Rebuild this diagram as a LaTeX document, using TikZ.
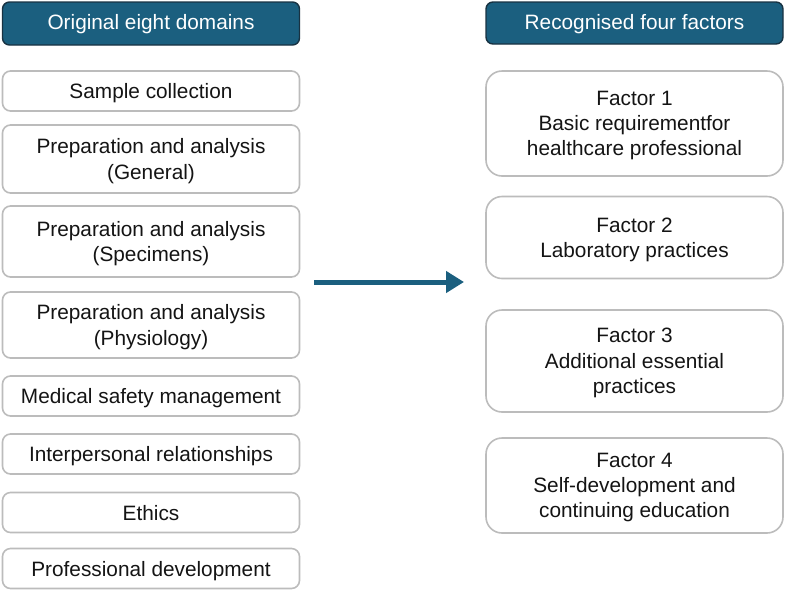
\documentclass[tikz,border=0pt]{standalone}
\usepackage{fontspec}
\setmainfont{Liberation Sans}
\usepackage{xcolor}
\usepackage{tikz}
\usetikzlibrary{arrows.meta,positioning}
\definecolor{headblue}{RGB}{27,95,127}
\definecolor{headedge}{RGB}{24,50,66}
\definecolor{boxgray}{RGB}{188,188,188}
\definecolor{inktext}{RGB}{20,20,20}

\begin{document}
\begin{tikzpicture}[x=1pt, y=-1pt, line join=round, >=Latex,
    font=\fontsize{20.8}{25.3}\selectfont,
    headbox/.style={draw=headedge, fill=headblue, line width=1.4pt, rounded corners=7pt,
        text=white, minimum width=297pt, inner sep=0pt, align=center, text depth=2.5pt},
    domainbox/.style={draw=boxgray, fill=white, line width=1.6pt, rounded corners=8pt,
        text=inktext, minimum width=297pt, inner sep=0pt, align=center, text depth=0pt},
    factorbox/.style={domainbox, rounded corners=16pt}]
    \useasboundingbox (0,0) rectangle (786,590);

    % column headers
    \node[headbox, minimum height=43pt] (hdom) at (151,23.5) {Original eight domains};
    \node[headbox, minimum height=42pt] (hfac) at (634.5,23) {Recognised four factors};

    % original domains
    \node[domainbox, minimum height=40pt] (d1) at (151,91) {Sample collection};
    \node[domainbox, minimum height=68pt] (d2) at (151,159) {Preparation and analysis\\(General)};
    \node[domainbox, minimum height=71pt] (d3) at (151,241.5) {Preparation and analysis\\(Specimens)};
    \node[domainbox, minimum height=66pt] (d4) at (151,325) {Preparation and analysis\\(Physiology)};
    \node[domainbox, minimum height=40pt] (d5) at (151,396) {Medical safety management};
    \node[domainbox, minimum height=40pt] (d6) at (151,454) {Interpersonal relationships};
    \node[domainbox, minimum height=40pt] (d7) at (151,512.5) {Ethics};
    \node[domainbox, minimum height=40pt] (d8) at (151,568.5) {Professional development};

    % recognised factors
    \node[factorbox, minimum height=105pt] (f1) at (634.5,123.5) {Factor 1\\Basic requirementfor\\healthcare professional};
    \node[factorbox, minimum height=82pt] (f2) at (634.5,237.5) {Factor 2\\Laboratory practices};
    \node[factorbox, minimum height=102pt] (f3) at (634.5,361) {Factor 3\\Additional essential\\practices};
    \node[factorbox, minimum height=95pt] (f4) at (634.5,485.5) {Factor 4\\Self-development and\\continuing education};

    % mapping arrow
    \coordinate (arrfrom) at (314,282);
    \coordinate (arrto) at (464,282);
    \draw[headblue, line width=5pt, -{Triangle[length=18pt, width=21pt]}] (arrfrom) -- (arrto);
\end{tikzpicture}
\end{document}
